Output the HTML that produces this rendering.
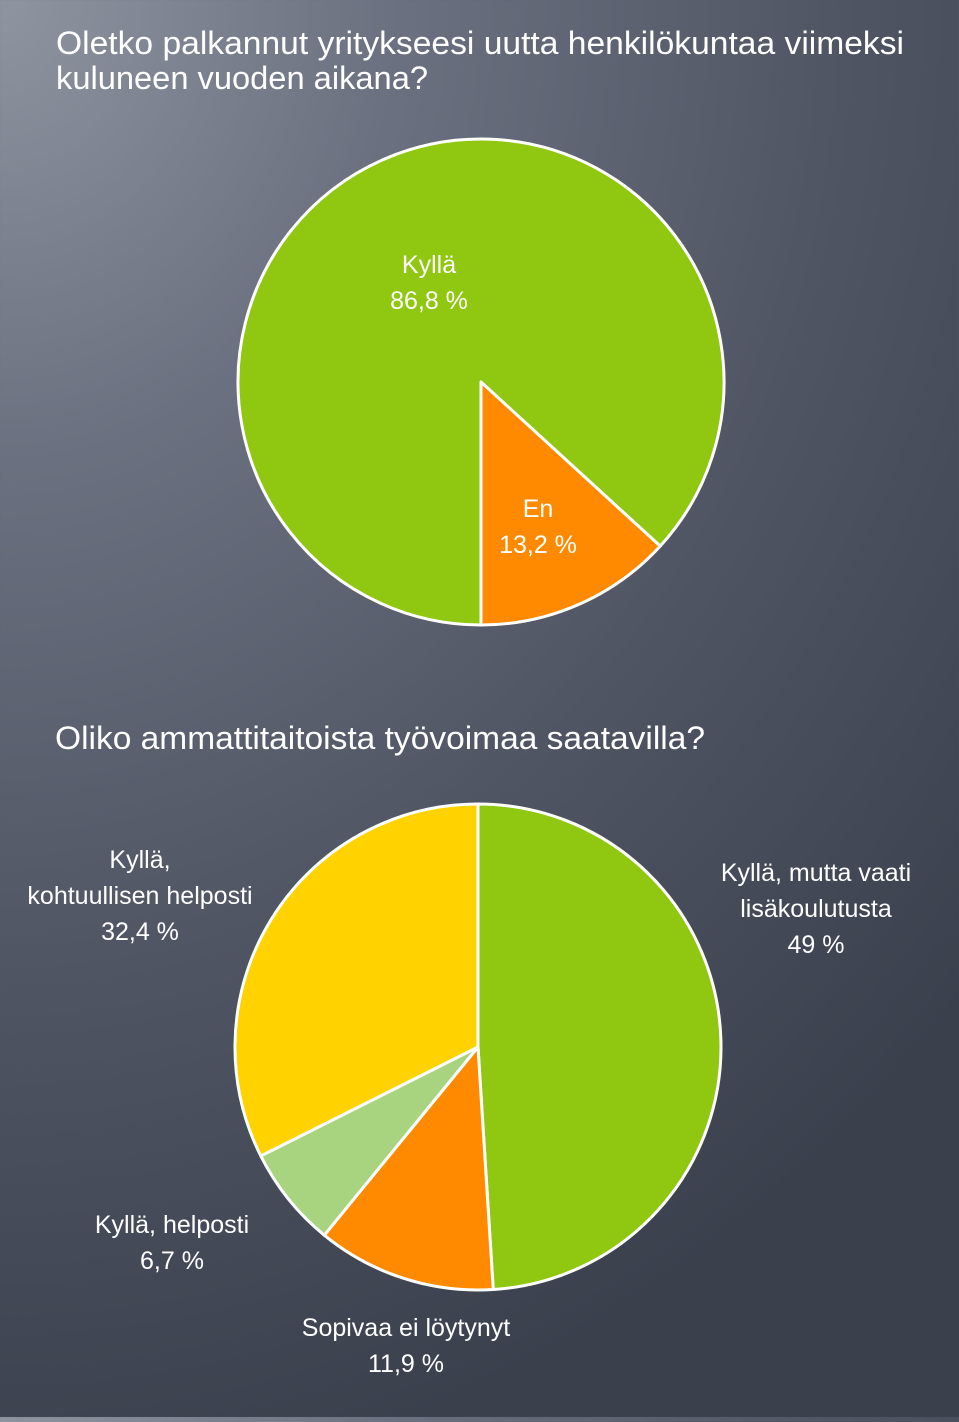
<!DOCTYPE html>
<html><head><meta charset="utf-8">
<style>
html,body{margin:0;padding:0;}
body{width:959px;height:1417px;overflow:hidden;background:radial-gradient(ellipse 1300px 1500px at 0px 0px,#8e95a0 0%,#6b7180 30%,#4f5563 65%,#3a404c 100%);font-family:"Liberation Sans",sans-serif;}
svg text{font-family:"Liberation Sans",sans-serif;fill:#fff;}
</style></head>
<body>
<svg id="chart" width="959" height="1417" viewBox="0 0 959 1417">
<text x="56" y="54" font-size="32" textLength="848" lengthAdjust="spacingAndGlyphs">Oletko palkannut yritykseesi uutta henkilökuntaa viimeksi</text>
<text x="56" y="89" font-size="32" textLength="372" lengthAdjust="spacingAndGlyphs">kuluneen vuoden aikana?</text>
<text x="55" y="749" font-size="32" textLength="650" lengthAdjust="spacingAndGlyphs">Oliko ammattitaitoista työvoimaa saatavilla?</text>
<g id="pie1"></g>
<g id="pie2"></g>
</svg>
<script>
const pie1Categories=["Kyllä","En"];
const pie1Values=[86.8,13.2];
const pie1Labels=["86,8 %","13,2 %"];
const pie2Categories=["Kyllä, mutta vaati lisäkoulutusta","Sopivaa ei löytynyt","Kyllä, helposti","Kyllä, kohtuullisen helposti"];
const pie2Values=[49,11.9,6.7,32.4];
const pie2Labels=["49 %","11,9 %","6,7 %","32,4 %"];

const NS="http://www.w3.org/2000/svg";
function pt(cx,cy,r,deg){const a=deg*Math.PI/180;return [cx+r*Math.sin(a),cy-r*Math.cos(a)];}
function drawPie(g,cx,cy,r,startDeg,values,colors,names,labelSpecs){
  const total=values.reduce((a,b)=>a+b,0);
  let cur=startDeg;
  values.forEach((v,i)=>{
    const sweep=v/total*360;
    const p0=pt(cx,cy,r,cur),p1=pt(cx,cy,r,cur+sweep);
    const path=document.createElementNS(NS,'path');
    path.setAttribute('d',`M${cx},${cy} L${p0[0]},${p0[1]} A${r},${r} 0 ${sweep>180?1:0} 1 ${p1[0]},${p1[1]} Z`);
    path.setAttribute('fill',colors[i]);
    path.setAttribute('stroke','#fff');
    path.setAttribute('stroke-width','3');
    path.setAttribute('stroke-linejoin','round');
    
    
    g.appendChild(path);
    cur+=sweep;
  });
  labelSpecs.forEach(s=>{
    const t=document.createElementNS(NS,'text');
    t.setAttribute('text-anchor','middle');
    t.setAttribute('font-size','25');
    
    
    s.lines.forEach((ln,k)=>{
      const ts=document.createElementNS(NS,'tspan');
      ts.setAttribute('x',s.x);
      ts.setAttribute('y',s.y+k*36);
      ts.textContent=ln;
      t.appendChild(ts);
    });
    g.appendChild(t);
  });
}
drawPie(document.getElementById('pie1'),481,382,243,180,pie1Values,['#8fc711','#ff8a00'],['slice-kylla','slice-en'],[
  {name:'label-kylla',x:429,y:273,lines:[pie1Categories[0],pie1Labels[0]]},
  {name:'label-en',x:538,y:517,lines:[pie1Categories[1],pie1Labels[1]]}
]);
drawPie(document.getElementById('pie2'),478,1047,243,0,pie2Values,['#8fc711','#ff8a00','#a9d47f','#ffd200'],['slice-lisakoulutus','slice-ei-loytynyt','slice-helposti','slice-kohtuullisen'],[
  {name:'label-lisakoulutus',x:816,y:881,lines:["Kyllä, mutta vaati","lisäkoulutusta",pie2Labels[0]]},
  {name:'label-ei-loytynyt',x:406,y:1336,lines:[pie2Categories[1],pie2Labels[1]]},
  {name:'label-helposti',x:172,y:1233,lines:[pie2Categories[2],pie2Labels[2]]},
  {name:'label-kohtuullisen',x:140,y:868,lines:["Kyllä,","kohtuullisen helposti",pie2Labels[3]]}
]);
</script>
</body></html>
